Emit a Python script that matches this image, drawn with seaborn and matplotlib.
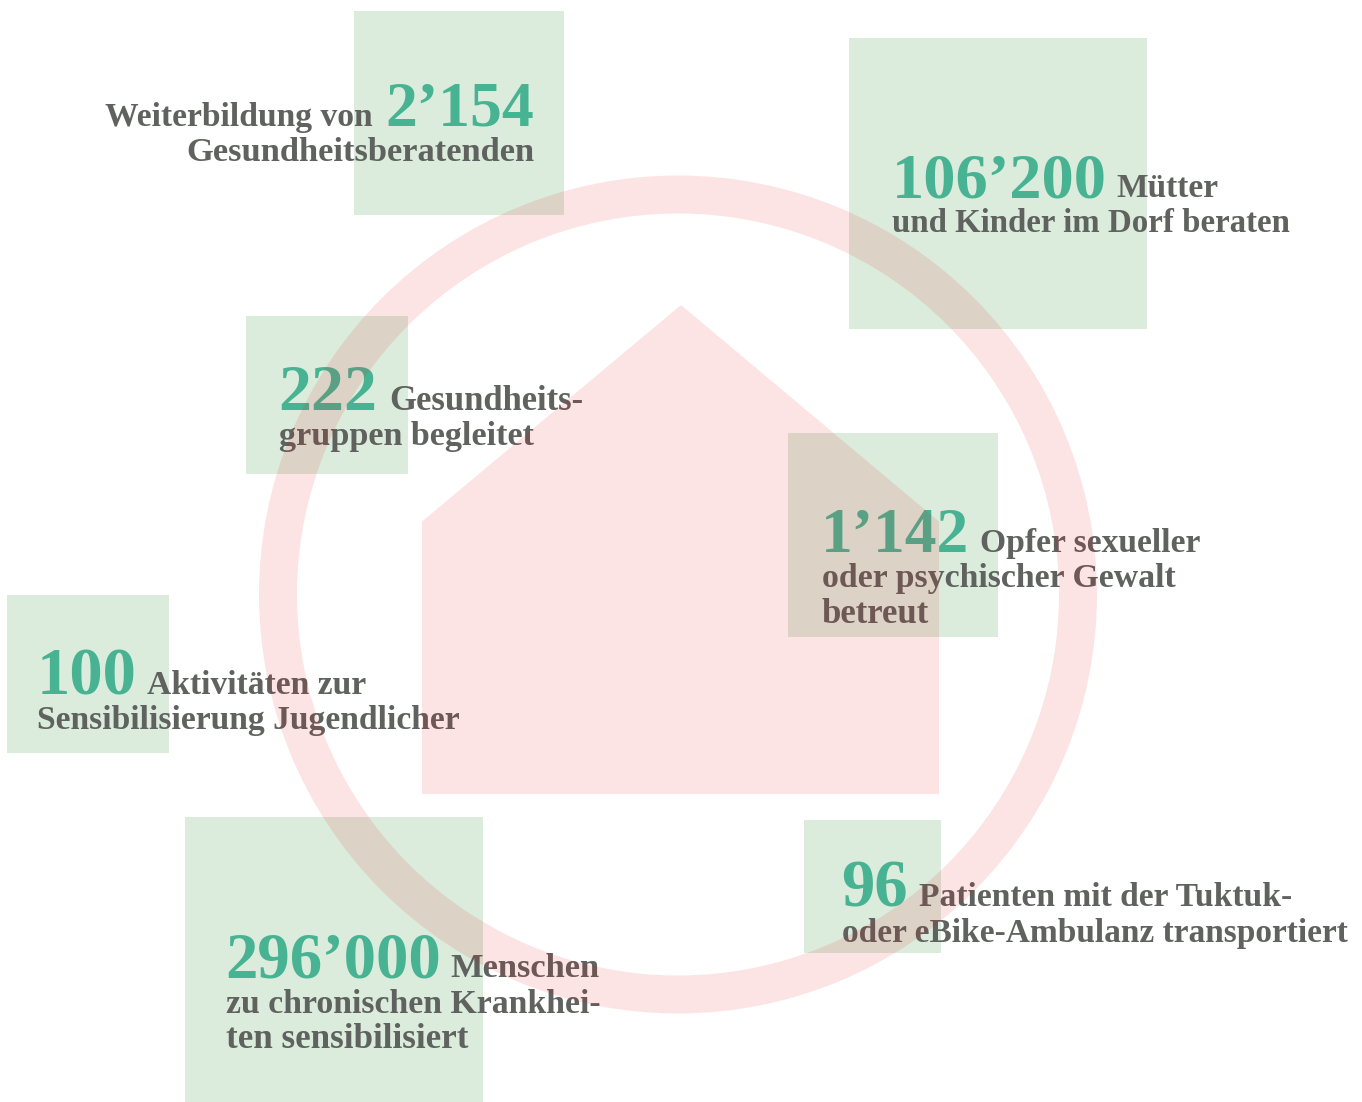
import matplotlib
matplotlib.use("Agg")
import matplotlib.pyplot as plt
from matplotlib.patches import Annulus, Polygon, Rectangle
import seaborn as sns

# ---- content ----
numbers = ["2’154", "106’200", "222", "1’142", "100", "96", "296’000"]
first_lines = ["Weiterbildung von", "Mütter", "Gesundheits-", "Opfer sexueller",
               "Aktivitäten zur", "Patienten mit der Tuktuk-", "Menschen"]
more_lines = [["Gesundheitsberatenden"],
              ["und Kinder im Dorf beraten"],
              ["gruppen begleitet"],
              ["oder psychischer Gewalt", "betreut"],
              ["Sensibilisierung Jugendlicher"],
              ["oder eBike-Ambulanz transportiert"],
              ["zu chronischen Krankhei-", "ten sensibilisiert"]]

# ---- layout (pixels) ----
W, H = 1362, 1102
squares = [(354, 11, 563.5, 214.5), (849, 38, 1147, 329), (246, 316, 408, 473.5),
           (788, 433, 997.5, 637), (7, 595, 169, 752.5), (804, 820, 941, 952.5),
           (185, 817, 483, 1102)]
number_pos = [(534.5, 126), (892, 197), (278.5, 409.5), (821, 552), (36.5, 694.5), (841.5, 906.5), (225, 977)]
first_pos = [(372.5, 126), (1116.5, 197), (389.5, 409.5), (980, 552), (147, 694), (919, 906), (450.5, 977)]
more_pos = [[(534, 161)], [(892, 232)], [(279, 445)], [(822, 587), (822, 623)],
            [(37, 729)], [(842, 942)], [(226, 1013), (226, 1048)]]
right_aligned = [True, False, False, False, False, False, False]
ring_center, ring_radius, ring_width = (678, 594.5), 419, 38
house = [(681, 305), (939, 521.5), (939, 794), (422, 794), (422, 521.5)]

# ---- type sizes, fitted line by line ----
number_size = [46, 46.4, 47.5, 45.8, 48, 48, 46.6]
first_size = [24.2, 24.0, 24.9, 24.2, 24.1, 24.1, 24.8]
more_size = [[24.8], [23.7], [24.6], [24.4, 25.0], [24.2], [24.0], [24.3, 25.2]]

GREEN_BOX = "#dbecdc"
GREEN_NUM = "#48b393"
GREY = "#5f625e"
PINK = "#ea0c18"
PINK_ALPHA = 0.11
FONT = "Liberation Serif"

sns.set_theme(style="white")
plt.rcParams["font.family"] = [FONT, "DejaVu Serif"]

fig = plt.figure(figsize=(W / 100, H / 100), dpi=100)
ax = fig.add_axes([0, 0, 1, 1])
ax.set_xlim(0, W)
ax.set_ylim(H, 0)
ax.set_axis_off()
sns.despine(ax=ax, left=True, bottom=True)

for x0, y0, x1, y1 in squares:
    ax.add_patch(Rectangle((x0, y0), x1 - x0, y1 - y0, fc=GREEN_BOX, ec="none", zorder=1))

for i, num in enumerate(numbers):
    ha = "right" if right_aligned[i] else "left"
    ax.text(*number_pos[i], num, fontsize=number_size[i], fontweight="bold", color=GREEN_NUM,
            ha=ha, va="baseline", zorder=2)
    ax.text(*first_pos[i], first_lines[i], fontsize=first_size[i], fontweight="bold", color=GREY,
            ha=ha, va="baseline", zorder=2)
    for (x, y), line, size in zip(more_pos[i], more_lines[i], more_size[i]):
        ax.text(x, y, line, fontsize=size, fontweight="bold", color=GREY,
                ha=ha, va="baseline", zorder=2)

# translucent pictogram lies over boxes and text
ax.add_patch(Annulus(ring_center, ring_radius, ring_width, fc=PINK, ec="none",
                     alpha=PINK_ALPHA, zorder=3))
ax.add_patch(Polygon(house, closed=True, fc=PINK, ec="none", alpha=PINK_ALPHA, zorder=3))

fig.savefig("out.png", dpi=100, facecolor="white")
